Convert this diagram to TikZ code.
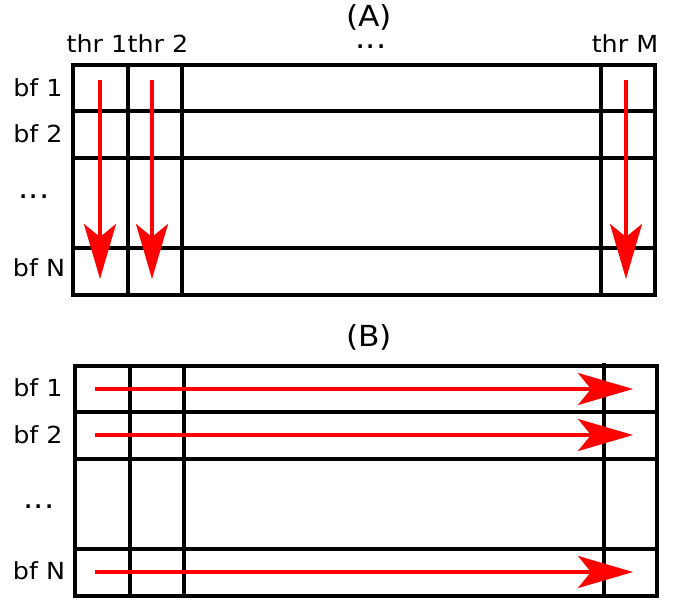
\documentclass[tikz,border=0pt]{standalone}
\usepackage{fontspec}
\setmainfont[FakeStretch=1.08]{DejaVu Sans}
\usetikzlibrary{arrows.meta}

\begin{document}
\begin{tikzpicture}[x=1pt, y=-1pt, grid/.style={line width=3.5pt}, flow/.style={red, line width=3.5pt, -{Stealth[length=55pt, width=32pt, inset=13pt]}}, lbl/.style={font=\fontsize{23.5}{26}\selectfont, inner sep=0pt}, dots/.style={font=\fontsize{30}{30}\selectfont, inner sep=0pt}, ttl/.style={font=\fontsize{29}{32}\selectfont, inner sep=0pt}]
  \useasboundingbox (0,0) rectangle (686,600);
  % (A): one thread per column
  \node[ttl](ttlA) at (369,17) {(A)};
  \draw[grid] (73,65) rectangle (655,295);
  \foreach \x in {128,182,601} \draw[grid] (\x,65) -- (\x,295);
  \foreach \y in {111,158,248} \draw[grid] (73,\y) -- (655,\y);
  \node[lbl](thr1) at (97,44) {thr 1};
  \node[lbl](thr2) at (158,44) {thr 2};
  \node[dots](thrdots) at (371,47) {...};
  \node[lbl](thrM) at (625,44) {thr M};
  \node[lbl](bfA1) at (38,88) {bf 1};
  \node[lbl](bfA2) at (38,134) {bf 2};
  \node[dots](bfAdots) at (34,197) {...};
  \node[lbl](bfAN) at (39,268) {bf N};
  \foreach \n/\x in {1/100,2/152,M/626} {
    \coordinate (topA\n) at (\x,80);
    \coordinate (botA\n) at (\x,279);
    \draw[flow] (topA\n) -- (botA\n);
  }
  % (B): one thread per row
  \node[ttl](ttlB) at (369,337) {(B)};
  \draw[grid] (75,366) rectangle (657,596);
  \foreach \x in {130,184} \draw[grid] (\x,366) -- (\x,596);
  \draw[grid] (604,363) -- (604,596);
  \draw[grid] (75,412) -- (659,412);
  \foreach \y in {459,549} \draw[grid] (75,\y) -- (657,\y);
  \node[lbl](bfB1) at (38,388) {bf 1};
  \node[lbl](bfB2) at (38,435) {bf 2};
  \node[dots](bfBdots) at (39,507) {...};
  \node[lbl](bfBN) at (39,571) {bf N};
  \foreach \n/\y in {1/389,2/435,N/572} {
    \coordinate (leftB\n) at (95,\y);
    \coordinate (rightB\n) at (633,\y);
    \draw[flow] (leftB\n) -- (rightB\n);
  }
\end{tikzpicture}
\end{document}
